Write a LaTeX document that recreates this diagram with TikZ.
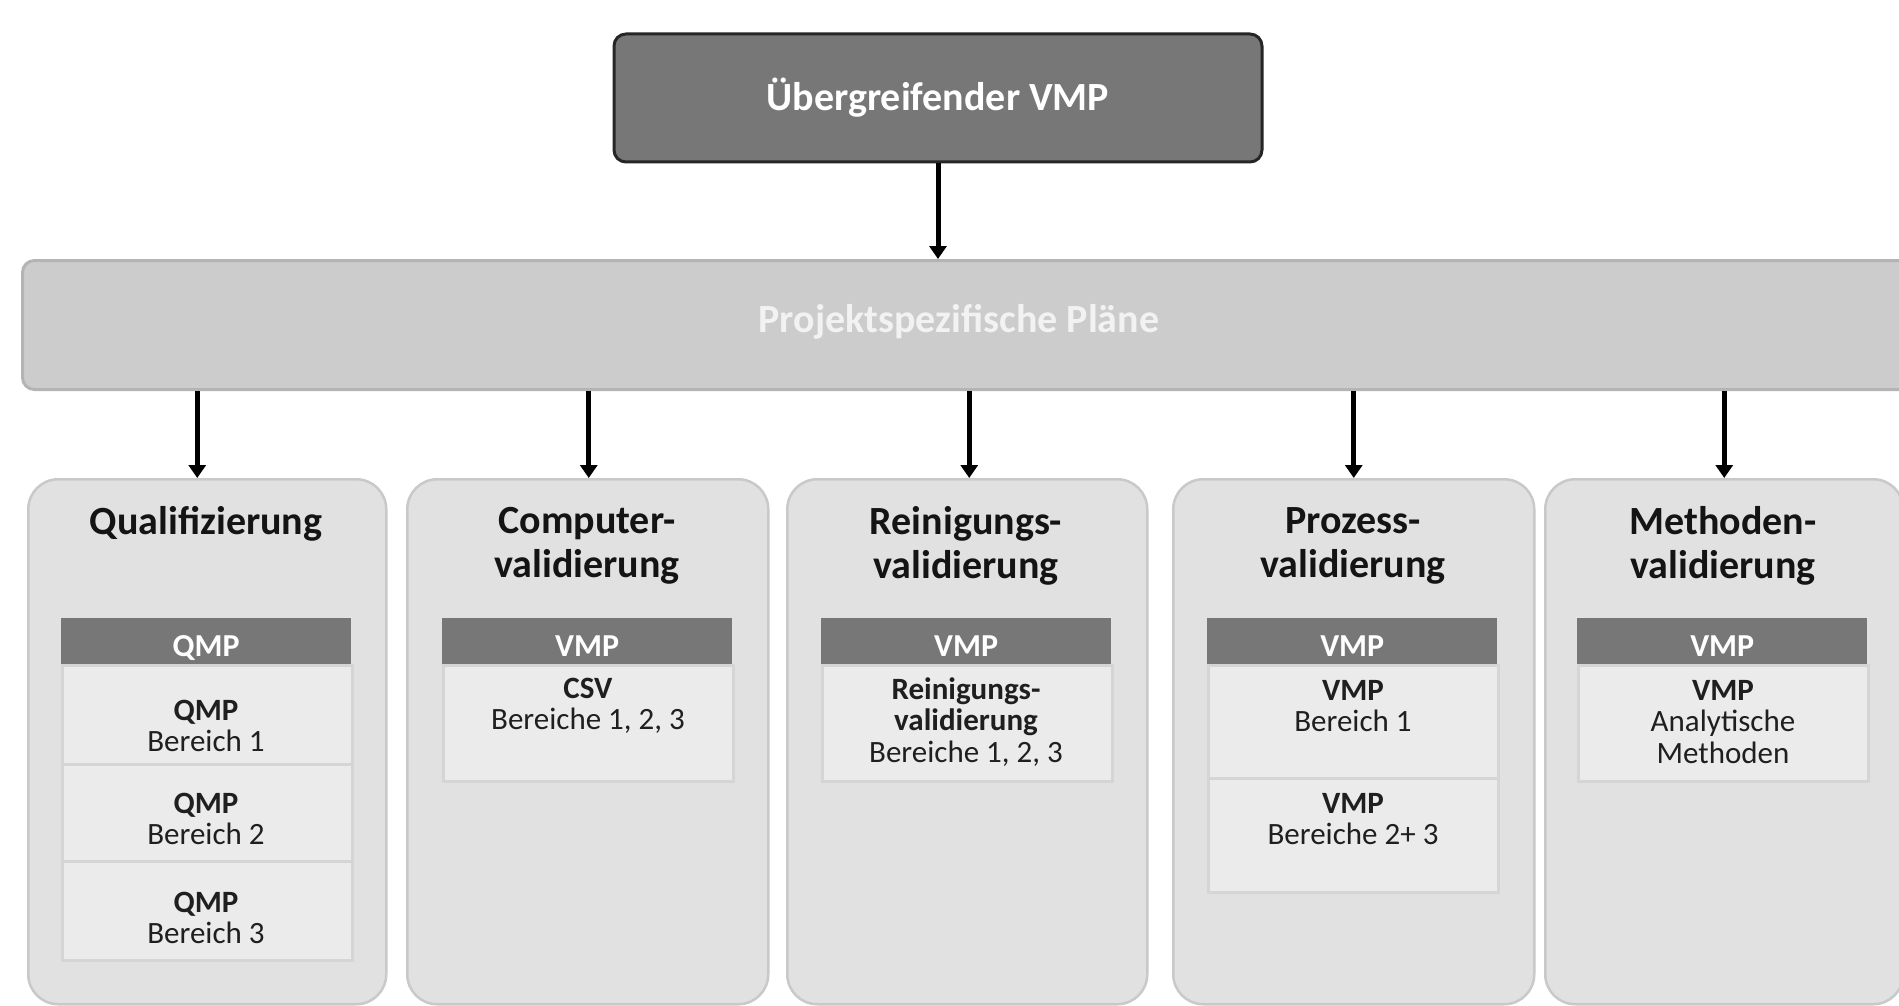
\documentclass[tikz,border=0pt]{standalone}
\usepackage{fontspec}
\setmainfont{Carlito}
\usetikzlibrary{arrows.meta}
\definecolor{cTop}{HTML}{777777}
\definecolor{cTopLine}{HTML}{262626}
\definecolor{cBand}{HTML}{CCCCCC}
\definecolor{cBandLine}{HTML}{B4B4B4}
\definecolor{cBandText}{HTML}{F2F2F2}
\definecolor{cCol}{HTML}{E1E1E1}
\definecolor{cColLine}{HTML}{C9C9C9}
\definecolor{cHead}{HTML}{777777}
\definecolor{cRow}{HTML}{EBEBEB}
\definecolor{cRowLine}{HTML}{D5D5D5}
\begin{document}
\begin{tikzpicture}[x=1pt,y=-1pt,
  topbox/.style={draw=cTopLine, line width=3pt, fill=cTop, rounded corners=12pt,
    text=white, font=\bfseries\fontsize{40}{44}\selectfont, inner sep=0pt},
  bandbox/.style={draw=cBandLine, line width=3pt, fill=cBand, rounded corners=12pt, inner sep=0pt},
  bandlabel/.style={text=cBandText, font=\bfseries\fontsize{40}{44}\selectfont, inner sep=0pt},
  colbox/.style={draw=cColLine, line width=2.5pt, fill=cCol, rounded corners=30pt,
    inner sep=0pt, anchor=north west, minimum height=525},
  coltitle/.style={align=center, font=\bfseries\fontsize{40}{43.6}\selectfont, text=black!92, inner sep=0pt},
  headbox/.style={fill=cHead, inner sep=0pt, anchor=north west, minimum width=290, minimum height=46,
    text=white, font=\bfseries\fontsize{32}{32}\selectfont, text height=30pt, text depth=0pt},
  rowbox/.style={draw=cRowLine, line width=3pt, fill=cRow, inner sep=0pt, anchor=north west, minimum width=290},
  rowtext/.style={align=center, font=\fontsize{31}{31.5}\selectfont, text=black!88, inner sep=0pt},
  arr/.style={line width=5pt, -{Triangle[width=17pt,length=13pt]}}
]
\useasboundingbox (0,0) rectangle (1899,1006);
\clip (0,0) rectangle (1899,1006);
\fill[white] (0,0) rectangle (1899,1006);

% top box
\node[topbox, minimum width=648, minimum height=128] (top) at (938,98) {Übergreifender VMP};

% band
\node[bandbox, anchor=north west, minimum width=1900, minimum height=129] (band) at (21,259) {};
\node[bandlabel] (bandtext) at (959,322) {Projektspezifische Pläne};

\draw[arr] (top.south) -- (top.south |- band.north);

% columns
\node[colbox, minimum width=358] (c1) at (27,478) {};
\node[colbox, minimum width=361] (c2) at (406,478) {};
\node[colbox, minimum width=360] (c3) at (786,478) {};
\node[colbox, minimum width=361] (c4) at (1172,478) {};
\node[colbox, minimum width=358] (c5) at (1544,478) {};

% arrows band -> columns
\draw[arr] ([xshift=-10pt]c1.north |- band.south) -- ([xshift=-10pt]c1.north);
\draw[arr] ([xshift=1pt]c2.north |- band.south) -- ([xshift=1pt]c2.north);
\draw[arr] ([xshift=2pt]c3.north |- band.south) -- ([xshift=2pt]c3.north);
\draw[arr] (c4.north |- band.south) -- (c4.north);
\draw[arr] (c5.north |- band.south) -- (c5.north);

% titles
\node[coltitle] (t1) at (206,524) {Qualifizierung};
\node[coltitle] (t2) at (587,546) {Computer-\\validierung};
\node[coltitle] (t3) at (966,546) {Reinigungs-\\validierung};
\node[coltitle] (t4) at (1353,546) {Prozess-\\validierung};
\node[coltitle] (t5) at (1723,546) {Methoden-\\validierung};

% column 1 table
\node[rowbox, minimum height=99] (r11) at (61,664) {};
\node[rowbox, minimum height=97] (r12) at (61,763) {};
\node[rowbox, minimum height=99] (r13) at (61,860) {};
\node[headbox] (h1) at (61,618) {QMP};
\node[rowtext] (x11) at (206,726) {\textbf{QMP}\\Bereich 1};
\node[rowtext] (x12) at (206,819) {\textbf{QMP}\\Bereich 2};
\node[rowtext] (x13) at (206,918) {\textbf{QMP}\\Bereich 3};

% column 2 table
\node[rowbox, minimum height=116] (r21) at (442,664) {};
\node[headbox] (h2) at (442,618) {VMP};
\node[rowtext] (x21) at (588,706) {\textbf{CSV}\\Bereiche 1, 2, 3};

% column 3 table
\node[rowbox, minimum height=116] (r31) at (821,664) {};
\node[headbox] (h3) at (821,618) {VMP};
\node[rowtext] (x31) at (966,722) {\textbf{Reinigungs-}\\\textbf{validierung}\\Bereiche 1, 2, 3};

% column 4 table
\node[rowbox, minimum height=113] (r41) at (1207,664) {};
\node[rowbox, minimum height=114] (r42) at (1207,777) {};
\node[headbox] (h4) at (1207,618) {VMP};
\node[rowtext] (x41) at (1353,706) {\textbf{VMP}\\Bereich 1};
\node[rowtext] (x42) at (1353,819) {\textbf{VMP}\\Bereiche 2+ 3};

% column 5 table
\node[rowbox, minimum height=116] (r51) at (1577,664) {};
\node[headbox] (h5) at (1577,618) {VMP};
\node[rowtext] (x51) at (1723,722) {\textbf{VMP}\\Analytische\\Methoden};
\end{tikzpicture}
\end{document}
